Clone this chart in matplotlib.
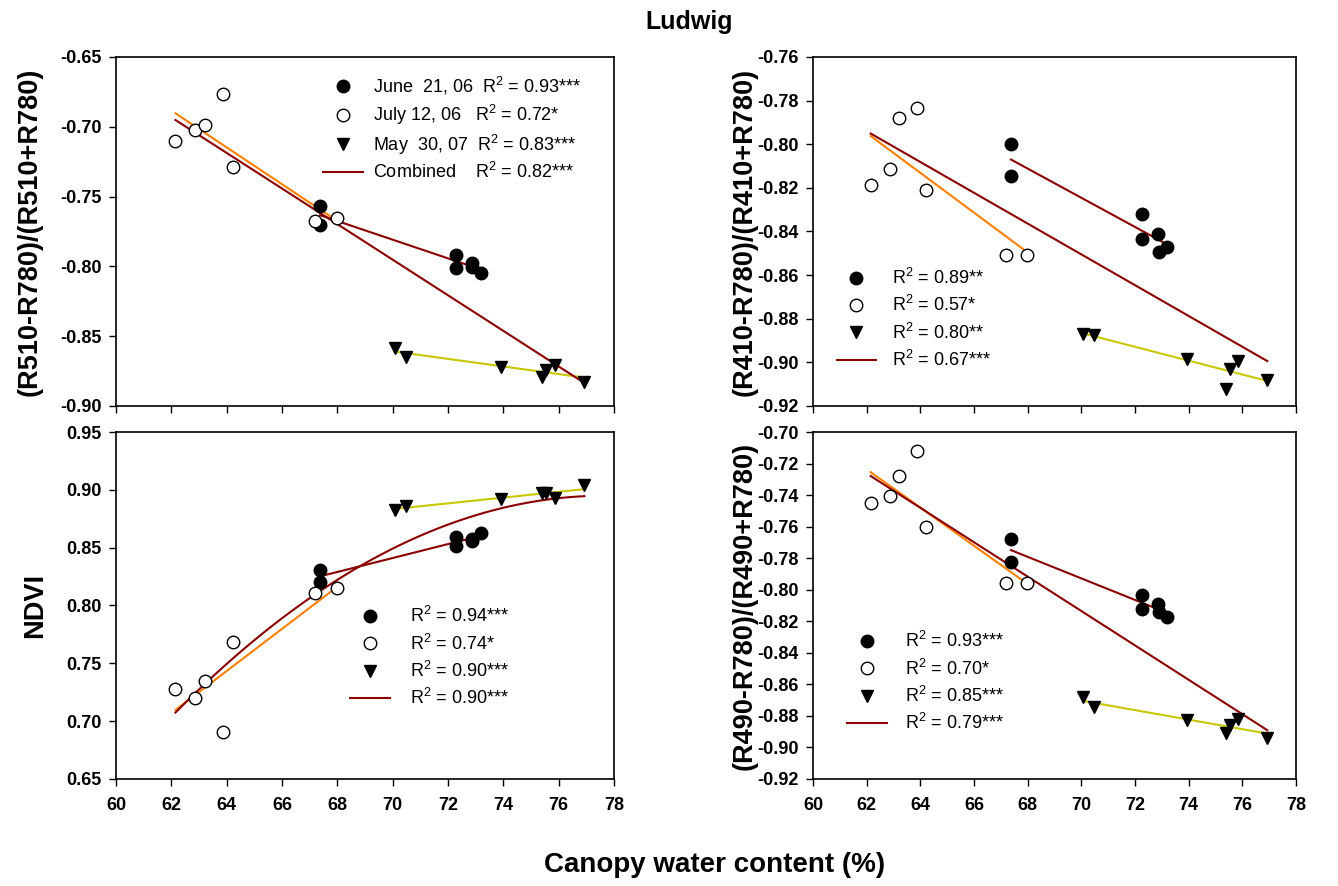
import numpy as np
import matplotlib
matplotlib.use('Agg')
import matplotlib.pyplot as plt
from matplotlib.lines import Line2D
from matplotlib.ticker import FormatStrFormatter

plt.rcParams['font.family'] = 'Liberation Sans'
plt.rcParams['mathtext.fontset'] = 'custom'
plt.rcParams['mathtext.rm'] = 'Liberation Sans'
plt.rcParams['mathtext.bf'] = 'Liberation Sans:bold'

# canopy water content (%) for each sampling date
cwc_jun06 = [67.38, 67.38, 72.28, 72.28, 72.85, 72.88, 73.21]
cwc_jul06 = [62.15, 62.87, 63.22, 63.88, 64.22, 67.20, 67.97]
cwc_may07 = [70.07, 70.48, 73.92, 75.39, 75.55, 75.85, 76.93]

# (R510-R780)/(R510+R780)
r510_jun06 = [-0.7565, -0.7703, -0.7918, -0.8009, -0.7973, -0.8002, -0.8045]
r510_jul06 = [-0.7100, -0.7023, -0.6987, -0.6767, -0.7288, -0.7675, -0.7656]
r510_may07 = [-0.8587, -0.8647, -0.8723, -0.8794, -0.8742, -0.8706, -0.8826]

# (R410-R780)/(R410+R780)
r410_jun06 = [-0.7999, -0.8147, -0.8318, -0.8434, -0.8410, -0.8494, -0.8469]
r410_jul06 = [-0.8188, -0.8112, -0.7881, -0.7832, -0.8210, -0.8509, -0.8506]
r410_may07 = [-0.8868, -0.8874, -0.8984, -0.9122, -0.9030, -0.8995, -0.9079]

# NDVI
ndvi_jun06 = [0.8306, 0.8200, 0.8588, 0.8513, 0.8559, 0.8574, 0.8631]
ndvi_jul06 = [0.7282, 0.7199, 0.7349, 0.6903, 0.7688, 0.8105, 0.8148]
ndvi_may07 = [0.8830, 0.8859, 0.8925, 0.8974, 0.8974, 0.8933, 0.9040]

# (R490-R780)/(R490+R780)
r490_jun06 = [-0.7679, -0.7822, -0.8035, -0.8121, -0.8092, -0.8142, -0.8170]
r490_jul06 = [-0.7453, -0.7403, -0.7280, -0.7122, -0.7601, -0.7959, -0.7959]
r490_may07 = [-0.8682, -0.8743, -0.8827, -0.8907, -0.8855, -0.8819, -0.8939]

r2_r510 = ['0.93***', '0.72*', '0.83***', '0.82***']
r2_r410 = ['0.89**', '0.57*', '0.80**', '0.67***']
r2_ndvi = ['0.94***', '0.74*', '0.90***', '0.90***']
r2_r490 = ['0.93***', '0.70*', '0.85***', '0.79***']
dates = ['June  21, 06', 'July 12, 06 ', 'May  30, 07', 'Combined  ']

c_dark = '#8B0000'
c_orange = '#FF8000'
c_yellow = '#C8C800'

fig = plt.figure(figsize=(13.38, 8.86), dpi=100)
rects = [[0.0867, 0.5418, 0.3722, 0.3939],
         [0.6076, 0.5418, 0.3610, 0.3939],
         [0.0867, 0.1208, 0.3722, 0.3916],
         [0.6076, 0.1208, 0.3610, 0.3916]]


def fit_line(ax, x, y, color, deg=1):
    p = np.polyfit(x, y, deg)
    xs = np.linspace(min(x), max(x), 100)
    ax.plot(xs, np.polyval(p, xs), color=color, lw=1.5, zorder=2)


def panel(ax, yj, yl, ym, curved=False):
    fit_line(ax, cwc_jul06, yl, c_orange)
    fit_line(ax, cwc_may07, ym, c_yellow)
    fit_line(ax, cwc_jun06, yj, c_dark)
    x_all = cwc_jun06 + cwc_jul06 + cwc_may07
    y_all = yj + yl + ym
    fit_line(ax, x_all, y_all, c_dark, deg=2 if curved else 1)
    ax.plot(cwc_jun06, yj, 'o', ms=9, mfc='black', mec='black', zorder=3)
    ax.plot(cwc_jul06, yl, 'o', ms=9, mfc='white', mec='black', mew=1, zorder=3)
    ax.plot(cwc_may07, ym, 'v', ms=9, mfc='black', mec='black', zorder=3)
    ax.set_xlim(60, 78)
    ax.set_xticks(np.arange(60, 79, 2))
    ax.yaxis.set_major_formatter(FormatStrFormatter('%.2f'))
    ax.tick_params(direction='out', length=5, width=1, top=False, right=False,
                   labelsize=13)
    ax.tick_params(axis='x', pad=8)
    ax.tick_params(axis='y', pad=5.5)
    for lab in ax.get_xticklabels() + ax.get_yticklabels():
        lab.set_fontweight('bold')
    for s in ax.spines.values():
        s.set_linewidth(1.2)


def add_legend(ax, labels, anchor, pad, spacing=0.4):
    handles = [Line2D([], [], ls='none', marker='o', ms=9, mfc='black', mec='black'),
               Line2D([], [], ls='none', marker='o', ms=9, mfc='white', mec='black'),
               Line2D([], [], ls='none', marker='v', ms=9, mfc='black', mec='black'),
               Line2D([], [], color=c_dark, lw=1.5)]
    ax.legend(handles, labels, loc='upper left', bbox_to_anchor=anchor,
              frameon=False, fontsize=13, handlelength=2.2, handletextpad=pad,
              labelspacing=spacing, borderaxespad=0, borderpad=0)


ax1 = fig.add_axes(rects[0])
panel(ax1, r510_jun06, r510_jul06, r510_may07)
ax1.set_ylim(-0.90, -0.65)
ax1.set_yticks(np.arange(-0.90, -0.649, 0.05))
ax1.set_xticklabels([])
ax1.set_ylabel('(R510-R780)/(R510+R780)', fontsize=19.5, fontweight='bold')
ax1.yaxis.set_label_coords(-0.147, 0.5)
add_legend(ax1, [f'{d}  R$^2$ = {r}' for d, r in zip(dates, r2_r510)],
           (0.416, 0.948), 0.55, spacing=0.31)

ax2 = fig.add_axes(rects[1])
panel(ax2, r410_jun06, r410_jul06, r410_may07)
ax2.set_ylim(-0.92, -0.76)
ax2.set_yticks(np.arange(-0.92, -0.759, 0.02))
ax2.set_xticklabels([])
ax2.set_ylabel('(R410-R780)/(R410+R780)', fontsize=19.5, fontweight='bold')
ax2.yaxis.set_label_coords(-0.114, 0.5)
add_legend(ax2, [f'R$^2$ = {r}' for r in r2_r410], (0.049, 0.396), 0.87)

ax3 = fig.add_axes(rects[2])
panel(ax3, ndvi_jun06, ndvi_jul06, ndvi_may07, curved=True)
ax3.set_ylim(0.65, 0.95)
ax3.set_yticks(np.arange(0.65, 0.951, 0.05))
ax3.set_ylabel('NDVI', fontsize=19.5, fontweight='bold')
ax3.yaxis.set_label_coords(-0.137, 0.5)
add_legend(ax3, [f'R$^2$ = {r}' for r in r2_ndvi], (0.47, 0.498), 1.1)

ax4 = fig.add_axes(rects[3])
panel(ax4, r490_jun06, r490_jul06, r490_may07)
ax4.set_ylim(-0.92, -0.70)
ax4.set_yticks(np.arange(-0.92, -0.699, 0.02))
ax4.set_ylabel('(R490-R780)/(R490+R780)', fontsize=19.5, fontweight='bold')
ax4.yaxis.set_label_coords(-0.114, 0.5)
add_legend(ax4, [f'R$^2$ = {r}' for r in r2_r490], (0.07, 0.426), 1.05)

fig.text(0.515, 0.975, 'Ludwig', ha='center', va='center', fontsize=18, fontweight='bold')
fig.text(0.534, 0.024, 'Canopy water content (%)', ha='center', va='center',
         fontsize=20, fontweight='bold')

fig.savefig('out.png', dpi=100, facecolor='white')
